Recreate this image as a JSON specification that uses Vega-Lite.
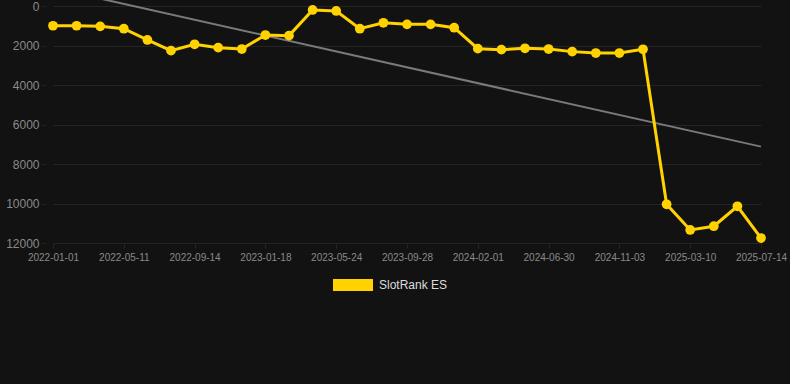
{
  "$schema": "https://vega.github.io/schema/vega-lite/v6.json",
  "autosize": {"type": "none"},
  "padding": {"left": 46, "top": 6, "right": 0, "bottom": 141},
  "width": 744,
  "height": 237,
  "background": "#121212",
  "config": {
    "view": {"stroke": null},
    "font": "Liberation Sans",
    "axis": {"gridColor": "#242424", "domain": false, "tickColor": "#242424", "labelColor": "#8a8a8a"}
  },
  "datasets": {
    "rank": [
      {"date": "2022-01-01", "rank": 1000},
      {"date": "2022-02-13", "rank": 1000},
      {"date": "2022-03-28", "rank": 1030},
      {"date": "2022-05-11", "rank": 1150},
      {"date": "2022-06-22", "rank": 1720},
      {"date": "2022-08-03", "rank": 2260},
      {"date": "2022-09-14", "rank": 1940},
      {"date": "2022-10-26", "rank": 2110},
      {"date": "2022-12-07", "rank": 2180},
      {"date": "2023-01-18", "rank": 1470},
      {"date": "2023-03-01", "rank": 1500},
      {"date": "2023-04-12", "rank": 200},
      {"date": "2023-05-24", "rank": 250},
      {"date": "2023-07-06", "rank": 1150},
      {"date": "2023-08-17", "rank": 850},
      {"date": "2023-09-28", "rank": 930},
      {"date": "2023-11-09", "rank": 930},
      {"date": "2023-12-21", "rank": 1100},
      {"date": "2024-02-01", "rank": 2160},
      {"date": "2024-03-20", "rank": 2210},
      {"date": "2024-05-10", "rank": 2140},
      {"date": "2024-06-30", "rank": 2180},
      {"date": "2024-08-11", "rank": 2310},
      {"date": "2024-09-22", "rank": 2380},
      {"date": "2024-11-03", "rank": 2380},
      {"date": "2024-12-15", "rank": 2190},
      {"date": "2025-01-27", "rank": 10040},
      {"date": "2025-03-10", "rank": 11340},
      {"date": "2025-04-21", "rank": 11150},
      {"date": "2025-06-02", "rank": 10140},
      {"date": "2025-07-14", "rank": 11750}
    ],
    "trend": [
      {"date": "2022-01-01", "rank": -910},
      {"date": "2025-07-14", "rank": 7120}
    ]
  },
  "encoding": {
    "x": {
      "field": "date",
      "type": "ordinal",
      "sort": "ascending",
      "scale": {"type": "point", "range": [7, 715], "padding": 0},
      "axis": {
        "title": null,
        "labelAngle": 0,
        "labelFontSize": 10,
        "tickSize": 5,
        "labelPadding": 4,
        "labelOverlap": false,
        "values": ["2022-01-01", "2022-05-11", "2022-09-14", "2023-01-18", "2023-05-24", "2023-09-28", "2024-02-01", "2024-06-30", "2024-11-03", "2025-03-10", "2025-07-14"]
      }
    },
    "y": {
      "field": "rank",
      "type": "quantitative",
      "scale": {"domain": [0, 12000], "reverse": true, "nice": false, "zero": false},
      "axis": {"title": null, "format": "d", "values": [0, 2000, 4000, 6000, 8000, 10000, 12000], "labelFontSize": 12, "tickSize": 4, "labelPadding": 3}
    }
  },
  "layer": [
    {
      "data": {"name": "trend"},
      "mark": {"type": "line", "color": "#7a7a7a", "strokeWidth": 2, "clip": false},
      "encoding": {}
    },
    {
      "data": {"name": "rank"},
      "mark": {"type": "line", "strokeWidth": 3, "clip": false, "point": {"size": 95, "filled": true, "opacity": 1}},
      "encoding": {
        "color": {
          "datum": "SlotRank ES",
          "type": "nominal",
          "scale": {"range": ["#FFD200"]},
          "legend": {
            "title": null,
            "orient": "none",
            "legendX": 287,
            "legendY": 259,
            "symbolType": "M-1,-0.3H1V0.3H-1Z",
            "symbolSize": 1600,
            "symbolStrokeWidth": 0,
            "labelColor": "#dddddd",
            "labelFontSize": 12,
            "labelOffset": 6
          }
        }
      }
    }
  ]
}
